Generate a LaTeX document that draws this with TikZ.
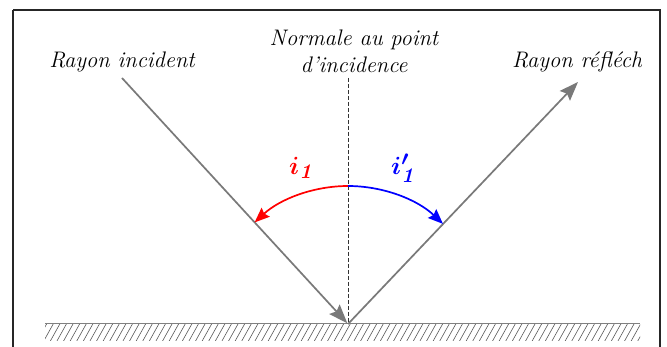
\documentclass[tikz,border=0pt]{standalone}
\usetikzlibrary{arrows.meta,calc}
\begin{document}
\begin{tikzpicture}[x=1pt,y=-1pt,
  ray/.style={draw=gray!95!black, line width=1.7pt, -{Stealth[length=19pt,width=14pt,inset=3pt]}},
  lbl/.style={font=\fontsize{22.5}{26}\selectfont\itshape, inner sep=0pt},
  angred/.style={draw=red, line width=1.7pt, -{Stealth[length=15pt,width=12pt,inset=2pt]}},
  angblue/.style={draw=blue, line width=1.7pt, -{Stealth[length=15pt,width=12pt,inset=2pt]}},
  anglbl/.style={font=\fontsize{31}{36}\selectfont\boldmath, inner sep=0pt}]
\useasboundingbox (0,0) rectangle (667,347);
\fill[white] (0,0) rectangle (667,347);
% frame
\draw[line width=2pt, black!85] (13,10) -- (660,10) -- (660,360);
\draw[line width=2pt, black!85] (13,10) -- (13,360);
% mirror
\coordinate (O) at (348,324);
\coordinate (A) at (122,78);
\coordinate (B) at (578,82);
\coordinate (N) at (348,78);
\coordinate (T) at (348,186);
\draw[gray, line width=1pt] (45,324) -- (640,324);
\begin{scope}
\clip (45,325) rectangle (640,341);
\foreach \x in {30,36.6,...,650} \draw[black!65, line width=0.6pt] (\x,342) -- (\x+10,324);
\end{scope}
% normal
\draw[black!80, line width=0.8pt, dash pattern=on 4pt off 2pt] (N) -- (O);
% rays
\draw[ray, shorten >=1pt] (A) -- (O);
\draw[ray] (O) -- (B);
% angles
\draw[angred] (T) arc[start angle=-90, end angle=-132.6, radius=138];
\draw[angblue] (T) arc[start angle=-90, end angle=-46.5, radius=138];
\node[anglbl, text=red] (i1) at (302,168) {$i_{\mathit{1}}$};
\node[anglbl, text=blue] (i1p) at (404,168) {$i'_{\mathit{1}}$};
% labels
\node[lbl] (tA) at (122,62) {Rayon incident};
\node[lbl] (tN1) at (354,40) {Normale au point};
\node[lbl] (tN2) at (354,65) {d'incidence};
\begin{scope}
\clip (0,0) rectangle (641,347);
\node[lbl, anchor=west] (tB) at (512,62) {Rayon réfléchi};
\end{scope}
\end{tikzpicture}
\end{document}
